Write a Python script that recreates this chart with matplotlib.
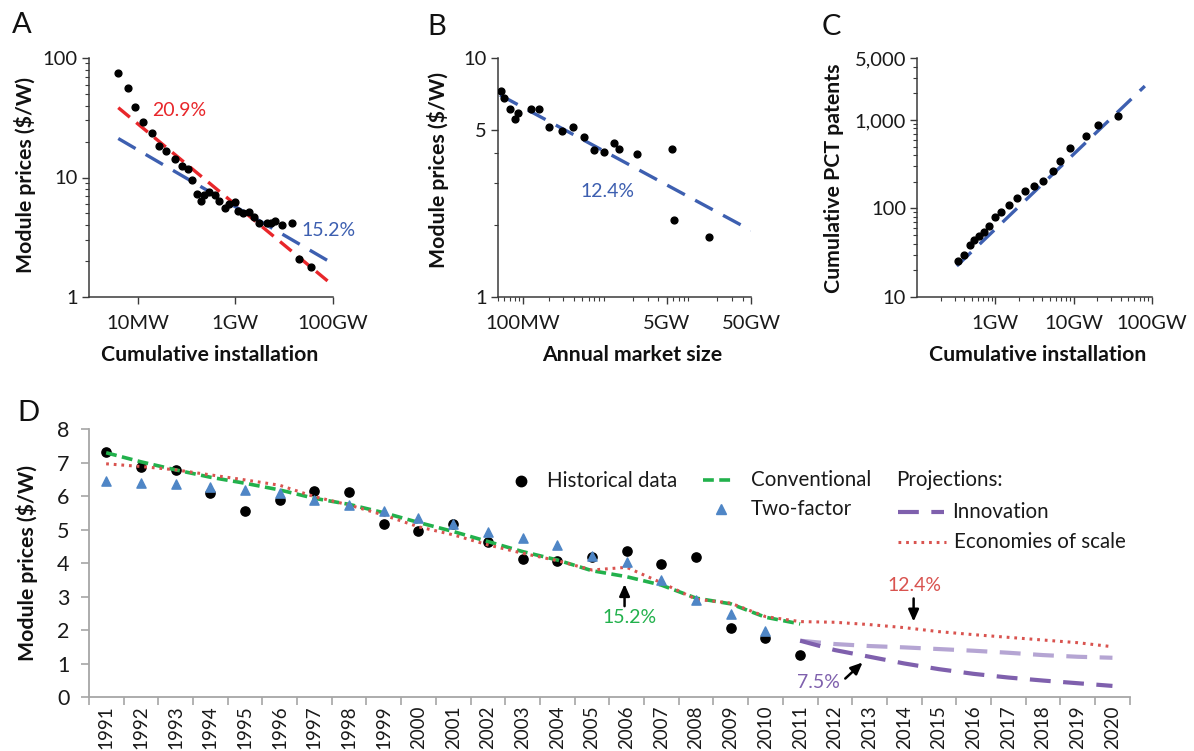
import numpy as np
import matplotlib
matplotlib.use('Agg')
import matplotlib.pyplot as plt
from matplotlib.ticker import FixedLocator, NullLocator, LogLocator, NullFormatter
from matplotlib.lines import Line2D

plt.rcParams['font.family'] = ['Lato', 'DejaVu Sans']

# ---- Panel A: cumulative installation (MW) vs module price ($/W)
a_inst = [3.9, 6.2, 8.8, 13, 19.5, 26.7, 38.4, 58.6, 79, 105, 132, 162, 195, 226, 286, 374,
          467, 610, 748, 977, 1143, 1445, 1862, 2399, 3020, 4365, 5248, 6546, 8913, 14355,
          19953, 34674]
a_price = [74.4, 56, 38.6, 28.9, 23.7, 18.4, 16.6, 14.3, 12.6, 11.7, 9.5, 7.25, 6.3, 7.2, 7.6,
           7.1, 6.3, 5.6, 6.0, 6.2, 5.2, 5.0, 5.1, 4.65, 4.2, 4.2, 4.2, 4.36, 3.98, 4.17, 2.09, 1.78]
a_fit_x = [3.98, 100000]
a_fit_red = [38.4, 1.25]
a_fit_blue = [21.2, 1.9]

# ---- Panel B: annual market size (MW) vs module price
b_market = [54, 59.4, 69.3, 79.4, 87.9, 125, 153, 201, 290, 387, 519, 687, 904, 1186, 1374,
            2203, 5834, 6109, 16032]
b_price = [7.3, 6.8, 6.1, 5.55, 5.86, 6.13, 6.11, 5.14, 4.93, 5.14, 4.65, 4.12, 4.06, 4.39,
           4.18, 3.97, 4.18, 2.09, 1.78]
b_fit_x = [53.3, 50000]
b_fit_y = [7.0, 1.9]

# ---- Panel C: cumulative installation (GW) vs cumulative PCT patents
c_inst = [0.336, 0.398, 0.466, 0.535, 0.614, 0.705, 0.834, 0.995, 1.19, 1.48, 1.89, 2.42,
          3.09, 4.04, 5.42, 6.61, 8.89, 14.6, 20.7, 37.5]
c_patents = [25.5, 29.6, 38.4, 44.5, 49.4, 54.8, 64.1, 81, 92, 110, 132, 157, 179, 205, 266,
             339, 480, 650, 873, 1104]
c_fit_x = [0.32, 81.7]
c_fit_y = [22.4, 2410]

# ---- Panel D: yearly module prices and models
years = list(range(1991, 2021))
hist = [7.33, 6.86, 6.79, 6.11, 5.55, 5.88, 6.16, 6.13, 5.16, 4.95, 5.17, 4.65, 4.13, 4.06,
        4.20, 4.38, 3.99, 4.19, 2.08, 1.78, 1.25]
two_factor = [6.45, 6.39, 6.36, 6.27, 6.18, 6.11, 5.89, 5.73, 5.56, 5.34, 5.16, 4.92, 4.75,
              4.54, 4.22, 4.05, 3.49, 2.90, 2.48, 1.98]
conventional = [7.30, 7.03, 6.79, 6.57, 6.39, 6.19, 5.94, 5.76, 5.51, 5.22, 4.95, 4.65, 4.35,
                4.10, 3.78, 3.60, 3.35, 2.96, 2.79, 2.39, 2.19]
econ_scale = [6.97, 6.89, 6.79, 6.64, 6.49, 6.33, 5.99, 5.74, 5.44, 5.09, 4.85, 4.55, 4.30,
              4.08, 3.80, 3.88, 3.42, 2.93, 2.81, 2.41, 2.26, 2.24, 2.17, 2.08, 1.96, 1.87,
              1.79, 1.71, 1.63, 1.51]
innov_light = [1.69, 1.59, 1.53, 1.49, 1.44, 1.39, 1.33, 1.26, 1.21, 1.18]
innov_dark = [1.69, 1.41, 1.21, 1.01, 0.84, 0.70, 0.59, 0.50, 0.42, 0.34]

W, H = 1194, 751
fig = plt.figure(figsize=(W / 100, H / 100), dpi=100)


def axes_px(left, top, right, bottom):
    return fig.add_axes([left / W, 1 - bottom / H, (right - left) / W, (bottom - top) / H])


def style_small(ax):
    for s in ['top', 'right']:
        ax.spines[s].set_visible(False)
    for s in ['left', 'bottom']:
        ax.spines[s].set_color('#3a3a3a')
        ax.spines[s].set_linewidth(1.1)
    ax.tick_params(which='major', direction='out', length=5, width=1, color='#3a3a3a',
                   labelsize=14.5, colors='#1a1a1a')
    ax.tick_params(which='minor', direction='out', length=3, width=0.8, color='#3a3a3a')
    ax.tick_params(axis='x', which='major', pad=8)
    ax.tick_params(axis='y', which='major', pad=3)


RED = '#e8262a'
BLUE = '#3d5fb0'

# Panel A
axA = axes_px(89, 58, 333, 297)
axA.set_xscale('log')
axA.set_yscale('log')
axA.plot(a_fit_x, a_fit_red, color=RED, lw=2.4, dashes=(4.5, 2.5))
axA.plot(a_fit_x, a_fit_blue, color=BLUE, lw=2.4, dashes=(6, 3.5))
axA.scatter(a_inst, a_price, s=24, color='black', zorder=3)
axA.set_xlim(1, 1e5)
axA.set_ylim(1, 100)
axA.xaxis.set_major_locator(FixedLocator([10, 1e3, 1e5]))
axA.set_xticklabels(['10MW', '1GW', '100GW'])
axA.xaxis.set_minor_locator(NullLocator())
axA.yaxis.set_major_locator(FixedLocator([1, 10, 100]))
axA.set_yticklabels(['1', '10', '100'])
axA.yaxis.set_minor_locator(LogLocator(base=10, subs=np.arange(2, 10)))
axA.yaxis.set_minor_formatter(NullFormatter())
style_small(axA)
axA.text(20, 36.7, '20.9%', color=RED, fontsize=14, va='center')
axA.text(23000, 3.63, '15.2%', color=BLUE, fontsize=14, va='center')

# Panel B
axB = axes_px(497.7, 58, 751, 297)
axB.set_xscale('log')
axB.set_yscale('log')
axB.plot(b_fit_x, b_fit_y, color=BLUE, lw=2.4, dashes=(6, 3.5))
axB.scatter(b_market, b_price, s=24, color='black', zorder=3)
axB.set_xlim(50, 50000)
axB.set_ylim(1, 10)
axB.xaxis.set_major_locator(FixedLocator([100, 5000, 50000]))
axB.set_xticklabels(['100MW', '5GW', '50GW'])
axB.xaxis.set_minor_locator(LogLocator(base=10, subs=np.arange(2, 10)))
axB.xaxis.set_minor_formatter(NullFormatter())
axB.yaxis.set_major_locator(FixedLocator([1, 5, 10]))
axB.set_yticklabels(['1', '5', '10'])
axB.yaxis.set_minor_locator(FixedLocator([2, 3, 4]))
axB.yaxis.set_minor_formatter(NullFormatter())
style_small(axB)
axB.text(1000, 2.62, '12.4%', color=BLUE, fontsize=14, ha='center')

# Panel C
axC = axes_px(917.3, 58, 1151.7, 297)
axC.set_xscale('log')
axC.set_yscale('log')
axC.plot(c_fit_x, c_fit_y, color=BLUE, lw=2.4, dashes=(6, 3.5))
axC.scatter(c_inst, c_patents, s=24, color='black', zorder=3)
axC.set_xlim(0.1, 100)
axC.set_ylim(10, 5000)
axC.xaxis.set_major_locator(FixedLocator([1, 10, 100]))
axC.set_xticklabels(['1GW', '10GW', '100GW'])
axC.xaxis.set_minor_locator(LogLocator(base=10, subs=np.arange(2, 10)))
axC.xaxis.set_minor_formatter(NullFormatter())
axC.yaxis.set_major_locator(FixedLocator([10, 100, 1000, 5000]))
axC.set_yticklabels(['10', '100', '1,000', '5,000'])
axC.yaxis.set_minor_locator(LogLocator(base=10, subs=np.arange(2, 10)))
axC.yaxis.set_minor_formatter(NullFormatter())
style_small(axC)

# labels for small panels
lab = dict(fontsize=15.3, fontweight='bold', color='#111111')
fig.text(25 / W, 1 - 175 / H, 'Module prices ($/W)', rotation=90, ha='center', va='center', **lab)
fig.text(210 / W, 1 - 355 / H, 'Cumulative installation', ha='center', va='center', **lab)
fig.text(438 / W, 1 - 170 / H, 'Module prices ($/W)', rotation=90, ha='center', va='center', **lab)
fig.text(632 / W, 1 - 355 / H, 'Annual market size', ha='center', va='center', **lab)
fig.text(834 / W, 1 - 178 / H, 'Cumulative PCT patents', rotation=90, ha='center', va='center', **lab)
fig.text(1038 / W, 1 - 355 / H, 'Cumulative installation', ha='center', va='center', **lab)

for letter, x, y in [('A', 12, 12), ('B', 427, 14), ('C', 822, 14), ('D', 17, 400)]:
    fig.text(x / W, 1 - y / H, letter, fontsize=21, va='top', ha='left', color='#111111')

# Panel D
GREEN = '#22b14c'
RED_D = '#d9534f'
TRI = '#4f86c6'
PURPLE = '#7f60ad'
PURPLE_L = '#b5a5d3'

axD = axes_px(88.8, 429.3, 1129.8, 697.3)
xi = np.arange(len(years))
axD.plot(xi[:len(conventional)], conventional, color=GREEN, lw=2.6, dashes=(3, 1.5), zorder=3)
axD.plot(xi[:len(econ_scale)], econ_scale, color=RED_D, lw=2.2, dashes=(0.9, 1.6), zorder=4)
axD.plot(xi[20:20 + len(innov_light)], innov_light, color=PURPLE_L, lw=3, dashes=(5, 3))
axD.plot(xi[20:20 + len(innov_dark)], innov_dark, color=PURPLE, lw=3, dashes=(5, 3))
axD.scatter(xi[:len(hist)], hist, s=44, color='black', zorder=2)
axD.scatter(xi[:len(two_factor)], two_factor, s=44, marker='^', color=TRI, zorder=5)
axD.set_xlim(-0.5, len(years) - 0.5)
axD.set_ylim(0, 8)
axD.set_yticks(range(0, 9))
axD.xaxis.set_major_locator(FixedLocator(np.arange(-0.5, len(years), 1)))
axD.xaxis.set_major_formatter(NullFormatter())
axD.xaxis.set_minor_locator(FixedLocator(xi))
axD.set_xticklabels([str(y) for y in years], minor=True, rotation=90)
for s in ['top', 'right']:
    axD.spines[s].set_visible(False)
for s in ['left', 'bottom']:
    axD.spines[s].set_color('#a6a6a6')
    axD.spines[s].set_linewidth(1.3)
axD.tick_params(axis='x', which='major', direction='out', length=6, width=1.2, color='#a6a6a6')
axD.tick_params(axis='x', which='minor', length=0, pad=6, labelsize=13.5, colors='#1a1a1a')
axD.tick_params(axis='y', direction='out', length=6, width=1.2, color='#a6a6a6', pad=8,
                labelsize=15.5, labelcolor='#1a1a1a')
fig.text(27 / W, 1 - 563 / H, 'Module prices ($/W)', rotation=90, ha='center', va='center', **lab)

# annotations
arr = dict(arrowstyle='-|>,head_length=0.5,head_width=0.22', color='black', lw=1.8,
           mutation_scale=14, shrinkA=0, shrinkB=0)
axD.annotate('', xy=(14.94, 3.38), xytext=(14.94, 2.72), arrowprops=arr)
axD.text(15.08, 2.37, '15.2%', color=GREEN, fontsize=14, ha='center', va='center')
axD.annotate('', xy=(23.27, 2.26), xytext=(23.27, 2.95), arrowprops=arr)
axD.text(23.29, 3.35, '12.4%', color=RED_D, fontsize=14, ha='center', va='center')
axD.annotate('', xy=(21.8, 1.04), xytext=(21.3, 0.56), arrowprops=arr)
axD.text(20.54, 0.43, '7.5%', color=PURPLE, fontsize=14, ha='center', va='center')


# legend drawn by hand
def fx(px):
    return px / W


def fy(py):
    return 1 - py / H


leg_font = dict(fontsize=14.8, va='center', ha='left', color='#1a1a1a')
fig.add_artist(Line2D([fx(521)], [fy(481)], marker='o', ms=7.5, color='black', ls='none'))
fig.text(fx(547), fy(481), 'Historical data', **leg_font)
fig.add_artist(Line2D([fx(703), fx(734)], [fy(480), fy(480)], color=GREEN, lw=2.6, dashes=(3, 1.5)))
fig.text(fx(751), fy(480), 'Conventional', **leg_font)
fig.add_artist(Line2D([fx(721)], [fy(509)], marker='^', ms=7.5, color=TRI, ls='none'))
fig.text(fx(751), fy(509), 'Two-factor', **leg_font)
fig.text(fx(896), fy(480), 'Projections:', **leg_font)
fig.add_artist(Line2D([fx(898), fx(944)], [fy(512), fy(512)], color=PURPLE, lw=3, dashes=(5, 3)))
fig.text(fx(952), fy(512), 'Innovation', **leg_font)
fig.add_artist(Line2D([fx(898), fx(946)], [fy(542), fy(542)], color=RED_D, lw=2.2, dashes=(0.9, 1.6)))
fig.text(fx(954), fy(542), 'Economies of scale', **leg_font)

fig.savefig('out.png', dpi=100)
